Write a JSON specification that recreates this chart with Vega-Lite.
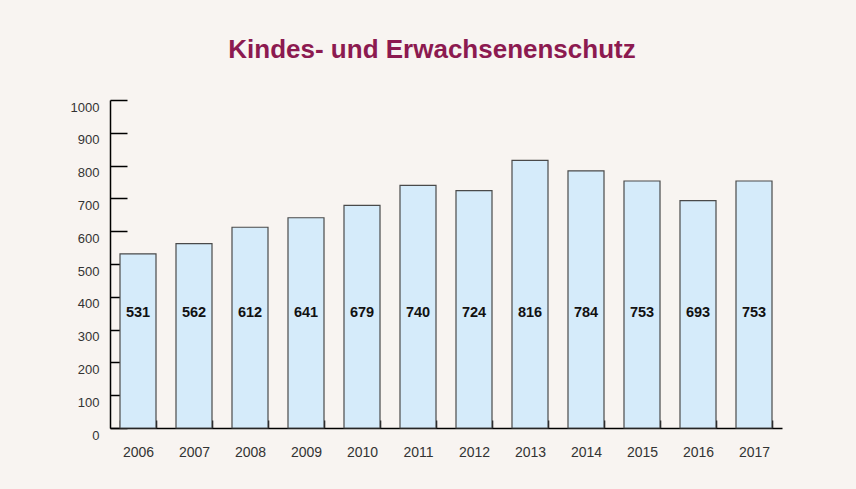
{
  "$schema": "https://vega.github.io/schema/vega-lite/v6.json",
  "width": 672,
  "height": 328,
  "autosize": {"type": "none"},
  "padding": {"left": 110, "top": 100, "right": 74, "bottom": 61},
  "background": "#f8f4f1",
  "config": {
    "view": {"stroke": null},
    "font": "Liberation Sans",
    "axisY": {
      "values": [0, 100, 200, 300, 400, 500, 600, 700, 800, 900, 1000],
      "tickCount": 11,
      "format": "d",
      "labelOverlap": false,
      "grid": false,
      "labelFontSize": 13,
      "labelColor": "#333333",
      "labelFont": "Liberation Sans",
      "labelOffset": 7,
      "tickSize": -17,
      "tickWidth": 1.5,
      "tickColor": "#000000",
      "domainColor": "#000000",
      "domainWidth": 1.5,
      "labelPadding": 28,
      "zindex": 0
    }
  },
  "title": {
    "text": "Kindes- und Erwachsenenschutz",
    "fontSize": 26,
    "fontWeight": "bold",
    "color": "#8c1a50",
    "font": "Liberation Sans",
    "anchor": "middle",
    "baseline": "alphabetic",
    "offset": 15,
    "dx": -14
  },
  "data": {
    "values": [
      {"year": "2006", "value": 531},
      {"year": "2007", "value": 562},
      {"year": "2008", "value": 612},
      {"year": "2009", "value": 641},
      {"year": "2010", "value": 679},
      {"year": "2011", "value": 740},
      {"year": "2012", "value": 724},
      {"year": "2013", "value": 816},
      {"year": "2014", "value": 784},
      {"year": "2015", "value": 753},
      {"year": "2016", "value": 693},
      {"year": "2017", "value": 753}
    ]
  },
  "encoding": {
    "x": {
      "field": "year",
      "type": "nominal",
      "sort": null,
      "scale": {"paddingInner": 0.357, "paddingOuter": 0.1785},
      "axis": {
        "title": null,
        "labelAngle": 0,
        "labelFontSize": 14,
        "labelColor": "#333333",
        "labelFont": "Liberation Sans",
        "tickBand": "extent",
        "tickSize": -8,
        "tickWidth": 1.5,
        "tickColor": "#000000",
        "domainColor": "#000000",
        "domainWidth": 1.5,
        "labelPadding": 25,
        "zindex": 0
      }
    }
  },
  "layer": [
    {
      "mark": {"type": "bar", "fill": "#d5ebfa", "stroke": "#4a4a4a", "strokeWidth": 1.2},
      "encoding": {
        "y": {
          "field": "value",
          "type": "quantitative",
          "scale": {"domain": [0, 1000], "nice": false},
          "axis": {
            "title": null,
            "values": [0, 100, 200, 300, 400, 500, 600, 700, 800, 900, 1000]
          }
        }
      }
    },
    {
      "mark": {"type": "text", "fontSize": 14.5, "fontWeight": "bold", "color": "#111111", "font": "Liberation Sans"},
      "encoding": {
        "y": {"datum": 350, "type": "quantitative", "axis": {"title": null, "values": [0, 100, 200, 300, 400, 500, 600, 700, 800, 900, 1000]}},
        "text": {"field": "value", "type": "quantitative"}
      }
    }
  ]
}
